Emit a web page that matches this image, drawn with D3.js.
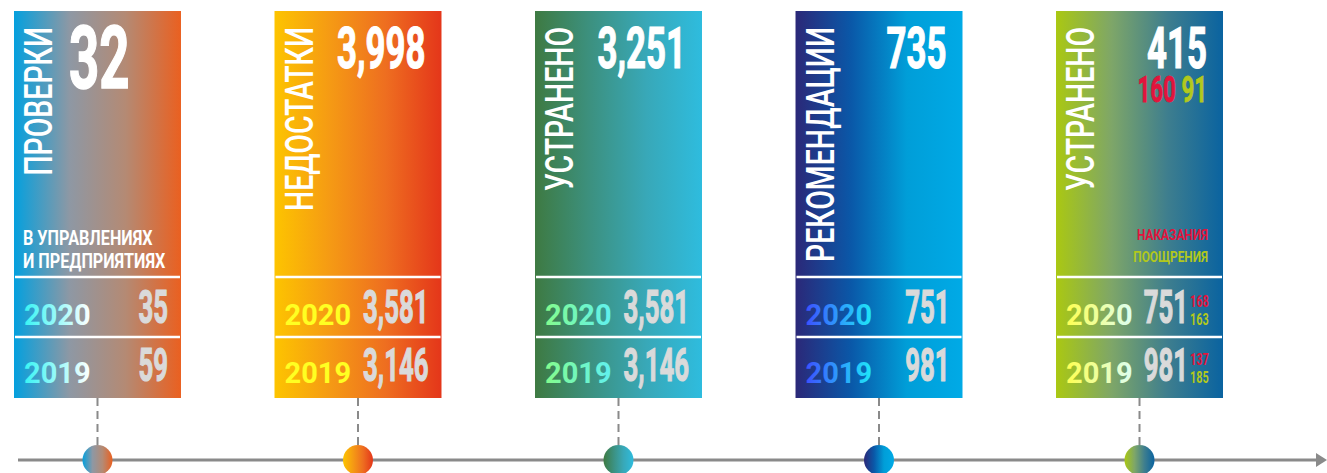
<!DOCTYPE html>
<html>
<head>
<meta charset="utf-8">
<script src="https://cdn.jsdelivr.net/npm/d3@7"></script>
<style>
  body { margin: 0; background: #fff; }
  text { font-family: Roboto, "Liberation Sans", sans-serif; }
</style>
</head>
<body>
<div id="viz"></div>
<script>
// data
const titles = ['ПРОВЕРКИ', 'НЕДОСТАТКИ', 'УСТРАНЕНО', 'РЕКОМЕНДАЦИИ', 'УСТРАНЕНО'];
const totals = [32, 3998, 3251, 735, 415];
const years = ['2020', '2019'];
const values2020 = [35, 3581, 3581, 751, 751];
const values2019 = [59, 3146, 3146, 981, 981];
const noteLines = ['В УПРАВЛЕНИЯХ', 'И ПРЕДПРИЯТИЯХ'];
const legendLabels = ['НАКАЗАНИЯ', 'ПООЩРЕНИЯ'];
// last panel split: total, 2020, 2019
const penalties = [160, 168, 137];
const rewards = [91, 163, 185];

// styles
const panelStops = [
    ['#04a0de', '#8e98a4', '#b48a74', '#ea6020'],
    ['#fdc400', '#f59a14', '#ee6e20', '#e4361a'],
    ['#3e7a42', '#3c9180', '#38a8b8', '#2ebcde'],
    ['#2b2878', '#0a58a8', '#009ed8', '#00aae6'],
    ['#aac812', '#7ea668', '#3e7e8e', '#0a63a0']
];
const yearStops = [
    ['#38f4f4', '#ffffff'],
    ['#ffff22', '#ffff22'],
    ['#84fc8c', '#60f0f0'],
    ['#3c50ff', '#1ee8f8'],
    ['#ffff50', '#dcfff4']
];
const red = '#e2143c', green = '#b2c81c', gray = '#dadada';

const W = 1327, H = 473;
const svg = d3.select('#viz').append('svg')
    .attr('width', W)
    .attr('height', H);

const defs = svg.append('defs');
const fmt = d3.format(',');

const x = d3.scaleBand()
    .domain(d3.range(titles.length))
    .range([14, 1223])
    .paddingInner(0.359)
    .paddingOuter(0);
const bw = x.bandwidth();

const y = {top: 11, row1: 277, row2: 337, bottom: 398, axis: 460};

function grad(id, stops) {
    const g = defs.append('linearGradient').attr('id', id)
        .attr('x1', 0).attr('x2', 1).attr('y1', 0).attr('y2', 0);
    stops.forEach(function(c, i) {
        g.append('stop').attr('offset', i / (stops.length - 1)).attr('stop-color', c);
    });
}
panelStops.forEach(function(s, i) { grad('pg' + i, s); });
yearStops.forEach(function(s, i) { grad('yg' + i, s); });

// squeezed text helper (condensed look)
function squeezed(parent, tx, ty, sx, rot) {
    return parent.append('g')
        .attr('transform', `translate(${tx},${ty})` + (rot ? ` rotate(${rot})` : '') + ` scale(${sx},1)`)
        .append('text');
}

// timeline
svg.append('line')
    .attr('x1', 18).attr('x2', 1318)
    .attr('y1', y.axis).attr('y2', y.axis)
    .attr('stroke', '#8a8a8a').attr('stroke-width', 3);
svg.append('path')
    .attr('d', `M1316,${y.axis - 7} L1327,${y.axis} L1316,${y.axis + 7} Z`)
    .attr('fill', '#8a8a8a');

const panels = svg.selectAll('g.panel')
    .data(titles)
    .enter().append('g')
    .attr('class', 'panel');

panels.append('line')
    .attr('x1', function(d, i) { return x(i) + bw / 2; })
    .attr('x2', function(d, i) { return x(i) + bw / 2; })
    .attr('y1', y.bottom)
    .attr('y2', y.axis - 15)
    .attr('stroke', '#8a8a8a')
    .attr('stroke-width', 2)
    .attr('stroke-dasharray', '8,5');

panels.append('circle')
    .attr('cx', function(d, i) { return x(i) + bw / 2; })
    .attr('cy', y.axis)
    .attr('r', 15)
    .attr('fill', function(d, i) { return `url(#pg${i})`; });

panels.append('rect')
    .attr('x', function(d, i) { return x(i); })
    .attr('y', y.top)
    .attr('width', bw)
    .attr('height', y.bottom - y.top)
    .attr('fill', function(d, i) { return `url(#pg${i})`; });

[y.row1, y.row2].forEach(function(ry) {
    panels.append('line')
        .attr('x1', function(d, i) { return x(i) + 1; })
        .attr('x2', function(d, i) { return x(i) + bw - 1; })
        .attr('y1', ry).attr('y2', ry)
        .attr('stroke', '#fff').attr('stroke-width', 2.5);
});

panels.each(function(d, i) {
    const g = d3.select(this);
    const x0 = x(i), x1 = x(i) + bw;

    // vertical title
    squeezed(g, x0 + 38, 27, 0.73, -90)
        .attr('text-anchor', 'end')
        .attr('font-size', 39)
        .attr('font-weight', 500)
        .attr('fill', '#fff')
        .text(d);

    // headline number
    if (i === 0) {
        squeezed(g, x0 + 55, 88, 0.6)
            .attr('font-size', 88)
            .attr('font-weight', 700)
            .attr('fill', '#fff')
            .attr('stroke', '#fff').attr('stroke-width', 1.5)
            .text(fmt(totals[i]));
    } else {
        squeezed(g, x1 - 16, 68, 0.6)
            .attr('text-anchor', 'end')
            .attr('font-size', 58)
            .attr('font-weight', 700)
            .attr('fill', '#fff')
            .attr('stroke', '#fff').attr('stroke-width', 1.2)
            .text(fmt(totals[i]));
    }

    // year rows
    const rowVals = [values2020[i], values2019[i]];
    const rowBase = [325, 383];
    years.forEach(function(yr, k) {
        g.append('text')
            .attr('x', x0 + 10)
            .attr('y', rowBase[k])
            .attr('font-size', 29)
            .attr('font-weight', 700)
            .attr('fill', `url(#yg${i})`)
            .text(yr);

        const last = i === titles.length - 1;
        squeezed(g, last ? x1 - 35 : x1 - 13, rowBase[k] - 2, 0.56)
            .attr('text-anchor', 'end')
            .attr('font-size', 46)
            .attr('font-weight', 700)
            .attr('fill', gray)
            .attr('stroke', gray).attr('stroke-width', 1.2)
            .text(fmt(rowVals[k]));

        if (last) {
            squeezed(g, x1 - 33, rowBase[k] - 18, 0.68)
                .attr('font-size', 16)
                .attr('font-weight', 700)
                .attr('fill', red)
                .text(penalties[k + 1]);
            squeezed(g, x1 - 33, rowBase[k], 0.68)
                .attr('font-size', 16)
                .attr('font-weight', 700)
                .attr('fill', green)
                .text(rewards[k + 1]);
        }
    });
});

// panel 1 note
const p0 = svg.select('g.panel');
noteLines.forEach(function(t, k) {
    squeezed(p0, x(0) + 9, 245 + k * 23, 0.81)
        .attr('font-size', 20)
        .attr('font-weight', 700)
        .attr('fill', '#fff')
        .text(t);
});

// last panel split and legend
const pl = d3.select(svg.selectAll('g.panel').nodes()[titles.length - 1]);
const xl = x(titles.length - 1) + bw;
const split = squeezed(pl, xl - 16, 102, 0.62)
    .attr('text-anchor', 'end')
    .attr('font-size', 36)
    .attr('font-weight', 700)
    .attr('stroke-width', 0.8);
split.append('tspan').attr('fill', red).attr('stroke', red).text(penalties[0] + ' ');
split.append('tspan').attr('fill', green).attr('stroke', green).text(rewards[0]);

legendLabels.forEach(function(t, k) {
    squeezed(pl, xl - 15, 240 + k * 22, 0.79)
        .attr('text-anchor', 'end')
        .attr('font-size', 15)
        .attr('font-weight', 700)
        .attr('fill', k === 0 ? red : green)
        .text(t);
});
</script>
</body>
</html>
